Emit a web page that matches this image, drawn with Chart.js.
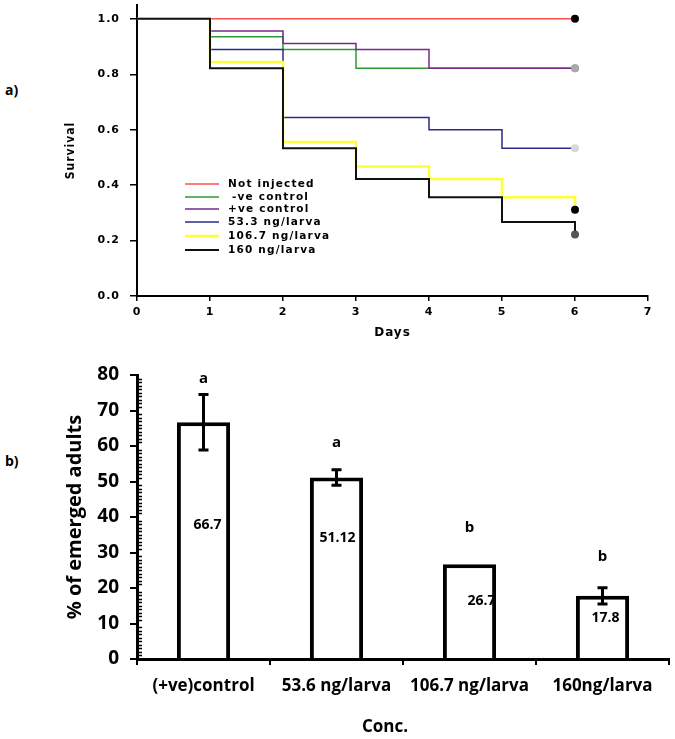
<!DOCTYPE html>
<html lang="en">
<head>
<meta charset="UTF-8" />
<title>Survival and adult emergence</title>
<style>
  body { margin: 0; background: #fff; width: 675px; height: 739px; position: relative; overflow: hidden; }
  .panel { position: absolute; left: 0; width: 675px; }
  #boxA { top: 0; height: 345px; }
  #boxB { top: 345px; height: 394px; }
  .tag { position: absolute; left: 5px; font: bold 14px 'Open Sans', sans-serif; color: #000; }
</style>
</head>
<body>
<div class="tag" style="top:80px">a)</div>
<div class="tag" style="top:451px">b)</div>
<div id="boxA" class="panel"><canvas id="survivalChart"></canvas></div>
<div id="boxB" class="panel"><canvas id="emergeChart"></canvas></div>

<script src="https://cdn.jsdelivr.net/npm/chart.js"></script>
<script>
// panel a - survival by day
const days = [0, 1, 2, 3, 4, 5, 6];
const groupNames = ['Not injected', '-ve control', '+ve control', '53.3 ng/larva', '106.7 ng/larva', '160 ng/larva'];
const notInjected = [1, 1, 1, 1, 1, 1, 1];
const negControl = [1, 0.935, 0.889, 0.822, 0.822, 0.822, 0.822];
const posControl = [1, 0.956, 0.911, 0.889, 0.822, 0.822, 0.822];
const dose53 = [1, 0.889, 0.644, 0.644, 0.6, 0.533, 0.533];
const dose107 = [1, 0.844, 0.556, 0.467, 0.422, 0.356, 0.311];
const dose160 = [1, 0.822, 0.533, 0.422, 0.356, 0.267, 0.222];
const survivalTicks = [0, 0.2, 0.4, 0.6, 0.8, 1.0];

// panel b - emerged adults
const concLabels = ['(+ve)control', '53.6 ng/larva', '106.7 ng/larva', '160ng/larva'];
const emerged = [66.7, 51.12, 26.7, 17.8];
const emergedErr = [7.8, 2.2, 0, 2.3];
const emergedText = ['66.7', '51.12', '26.7', '17.8'];
const groupLetters = ['a', 'a', 'b', 'b'];

// styles
const lineColors = ['#ff5050', '#2e9a34', '#762a86', '#2a2a8c', '#ffff38', '#111111'];
const lineWidths = [1.5, 1.5, 1.5, 1.5, 2.5, 2];
const dotColors = ['#000000', '#a9a9a9', '#a9a9a9', '#d8d8d8', '#000000', '#555555'];
const drawOrder = [6, 5, 4, 3, 2, 1];

const tickFontA = { family: 'DejaVu Sans', weight: 'bold', size: 11 };

const seriesA = [notInjected, negControl, posControl, dose53, dose107, dose160];

const legendA = {
  id: 'legendA',
  beforeDraw(chart) {
    chart.ctx.letterSpacing = '1px';
  },
  afterDraw(chart) {
    const ctx = chart.ctx;
    const rows = [184, 197, 209, 222, 236, 250];
    ctx.save();
    ctx.font = 'bold 10.5px "DejaVu Sans"';
    ctx.letterSpacing = '1.2px';
    ctx.textBaseline = 'middle';
    groupNames.forEach((name, i) => {
      ctx.strokeStyle = lineColors[i];
      ctx.lineWidth = lineWidths[i];
      ctx.beginPath();
      ctx.moveTo(185, rows[i]);
      ctx.lineTo(219, rows[i]);
      ctx.stroke();
      ctx.fillStyle = '#000';
      ctx.fillText(name, i === 1 ? 232 : 228, rows[i]);
    });
    ctx.restore();
  }
};

new Chart(document.getElementById('survivalChart'), {
  type: 'line',
  data: {
    datasets: groupNames.map((name, i) => ({
      label: name,
      data: days.map((d, k) => ({ x: d, y: seriesA[i][k] })),
      borderColor: lineColors[i],
      borderWidth: lineWidths[i],
      stepped: true,
      order: drawOrder[i],
      pointRadius: c => c.dataIndex === days.length - 1 ? 4 : 0,
      pointBackgroundColor: dotColors[i],
      pointBorderWidth: 0
    }))
  },
  options: {
    responsive: true,
    maintainAspectRatio: false,
    animation: false,
    layout: { padding: { left: 64, top: 5, right: 27, bottom: 5 } },
    plugins: { legend: { display: false }, tooltip: { enabled: false } },
    scales: {
      x: {
        type: 'linear', min: 0, max: 7,
        afterFit: s => { s.height = 44; },
        ticks: { stepSize: 1, color: '#000', font: tickFontA, padding: 5 },
        grid: { drawOnChartArea: false, tickLength: 5, color: '#000', lineWidth: 1.5 },
        border: { color: '#000', width: 2 },
        title: { display: true, text: 'Days', color: '#000', font: { family: 'DejaVu Sans', weight: 'bold', size: 12 }, padding: { top: 0, bottom: 0 } }
      },
      y: {
        min: 0, max: 1.05,
        afterFit: s => { s.width = 73; s.paddingTop = 0; s.paddingBottom = 0; },
        afterBuildTicks: s => { s.ticks = survivalTicks.map(v => ({ value: v })); },
        ticks: { color: '#000', font: tickFontA, padding: 10, callback: v => Number(v).toFixed(1) },
        grid: { drawOnChartArea: false, tickLength: 7, color: '#000', lineWidth: 1.5 },
        border: { color: '#000', width: 2 },
        title: { display: true, text: 'Survival', color: '#000', font: { family: '"DejaVu Sans Condensed", "Liberation Sans", sans-serif', weight: 'bold', size: 12 }, padding: { top: 0, bottom: 0 } }
      }
    }
  },
  plugins: [legendA]
});

// bar extras: minor ticks, error bars, value labels, letters, x title
const labelAt = [37.7, 34.0, 16.4, 11.5];
const labelShift = [4, 1, 12, 3];
const letterAt = [79.0, 60.8, 36.9, 28.7];

const barExtras = {
  id: 'barExtras',
  afterDraw(chart) {
    const ctx = chart.ctx;
    const ys = chart.scales.y;
    const area = chart.chartArea;
    ctx.save();
    // minor ticks on the inner side of the y axis
    ctx.strokeStyle = '#000';
    ctx.lineWidth = 1.5;
    for (let v = 1; v < 80; v++) {
      if (v % 10 === 0) continue;
      const py = Math.round(ys.getPixelForValue(v)) + 0.5;
      ctx.beginPath();
      ctx.moveTo(area.left, py);
      ctx.lineTo(area.left + 5, py);
      ctx.stroke();
    }
    const bars = chart.getDatasetMeta(0).data;
    bars.forEach((bar, i) => {
      const x = bar.x;
      // error bar
      if (emergedErr[i] > 0) {
        const top = ys.getPixelForValue(emerged[i] + emergedErr[i]);
        const bot = ys.getPixelForValue(emerged[i] - emergedErr[i]);
        ctx.lineWidth = 3;
        ctx.beginPath();
        ctx.moveTo(x, top); ctx.lineTo(x, bot);
        ctx.moveTo(x - 5, top); ctx.lineTo(x + 5, top);
        ctx.moveTo(x - 5, bot); ctx.lineTo(x + 5, bot);
        ctx.stroke();
      }
      ctx.fillStyle = '#000';
      ctx.textAlign = 'center';
      ctx.textBaseline = 'middle';
      ctx.font = 'bold 14px "Open Sans"';
      ctx.fillText(emergedText[i], x + labelShift[i], ys.getPixelForValue(labelAt[i]));
      ctx.font = 'bold 15px "Open Sans"';
      ctx.fillText(groupLetters[i], x, ys.getPixelForValue(letterAt[i]));
    });
    ctx.font = 'bold 17px "Open Sans"';
    ctx.fillText('Conc.', 385, chart.height - 12);
    ctx.restore();
  }
};

new Chart(document.getElementById('emergeChart'), {
  type: 'bar',
  data: {
    labels: concLabels,
    datasets: [{
      label: '% of emerged adults',
      data: emerged,
      backgroundColor: '#ffffff',
      borderColor: '#000000',
      borderWidth: 4,
      categoryPercentage: 1,
      barPercentage: 0.4
    }]
  },
  options: {
    responsive: true,
    maintainAspectRatio: false,
    animation: false,
    layout: { padding: { left: 63, top: 30, right: 6, bottom: 0 } },
    plugins: { legend: { display: false }, tooltip: { enabled: false } },
    scales: {
      x: {
        afterFit: s => { s.height = 80; },
        ticks: { color: '#000', font: { family: 'Open Sans', weight: 'bold', size: 17 }, padding: 11, maxRotation: 0 },
        grid: { drawOnChartArea: false, offset: true, tickLength: 6, color: '#000', lineWidth: 2 },
        border: { color: '#000', width: 3 }
      },
      y: {
        min: 0, max: 80,
        afterFit: s => { s.width = 74; },
        ticks: { stepSize: 10, color: '#000', font: { family: 'Open Sans', weight: 'bold', size: 19 }, padding: 11 },
        grid: { drawOnChartArea: false, tickLength: 7, color: '#000', lineWidth: 2 },
        border: { color: '#000', width: 3 },
        title: { display: true, text: '% of emerged adults', color: '#000', font: { family: 'Open Sans', weight: 'bold', size: 20 }, padding: { top: 0, bottom: 0 } }
      }
    }
  },
  plugins: [barExtras]
});
</script>
</body>
</html>
